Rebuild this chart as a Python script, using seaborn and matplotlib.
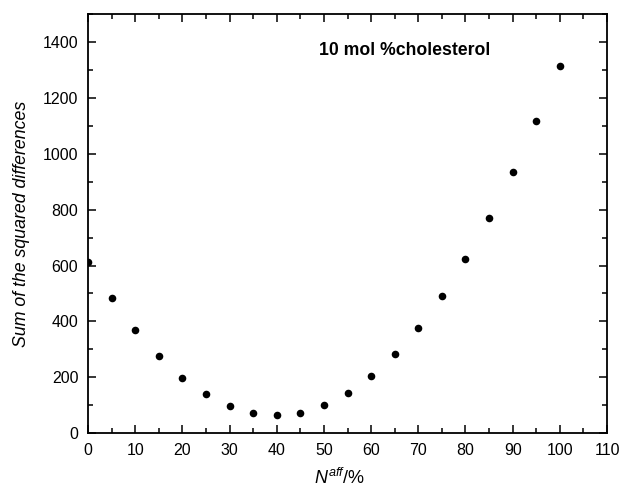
import matplotlib
matplotlib.use("Agg")
import matplotlib.pyplot as plt
from matplotlib.ticker import MultipleLocator
import seaborn as sns
import pandas as pd

# Affinity fraction (%) and sum of squared differences
n_aff = [0, 5, 10, 15, 20, 25, 30, 35, 40, 45, 50,
         55, 60, 65, 70, 75, 80, 85, 90, 95, 100]
ssd = [612, 483, 370, 276, 198, 138, 96, 70, 63, 70, 99,
       142, 204, 282, 378, 491, 623, 771, 937, 1119, 1317]

x_ticks = list(range(0, 111, 10))
y_ticks = list(range(0, 1401, 200))

sns.set_style("ticks")
plt.rcParams["font.family"] = ["Liberation Sans", "DejaVu Sans"]
plt.rcParams["mathtext.fontset"] = "custom"
plt.rcParams["mathtext.it"] = "Liberation Sans:italic"
plt.rcParams["mathtext.rm"] = "Liberation Sans"
plt.rcParams["text.color"] = "black"
plt.rcParams["axes.labelcolor"] = "black"

df = pd.DataFrame({"n_aff": n_aff, "ssd": ssd})

fig = plt.figure(figsize=(6.22, 4.88), dpi=100)
ax = fig.add_axes([0.1415, 0.1127, 0.8344, 0.8576])

sns.scatterplot(data=df, x="n_aff", y="ssd", ax=ax, color="black",
                s=30, edgecolor="black", linewidth=0, legend=False)

ax.set_xlim(0, 110)
ax.set_ylim(0, 1500)
ax.set_xticks(x_ticks)
ax.set_yticks(y_ticks)
ax.xaxis.set_minor_locator(MultipleLocator(5))
ax.yaxis.set_minor_locator(MultipleLocator(100))
ax.tick_params(which="both", direction="in", top=True, right=True,
               labelsize=11.5, width=1.1, colors="black")
ax.tick_params(which="major", length=6, pad=7)
ax.tick_params(which="minor", length=3.5)
for sp in ax.spines.values():
    sp.set_linewidth(1.3)
    sp.set_color("black")

ax.set_xlabel(r"$N^{aff}$/%", fontsize=13)
ax.xaxis.set_label_coords(0.4855, -0.083)
ax.set_ylabel("Sum of the squared differences", fontsize=12.8,
              fontstyle="italic", labelpad=9)
ax.text(67.1, 1371, "10 mol %cholesterol", fontsize=12.7, fontweight="bold",
        ha="center", va="center")

fig.savefig("out.png", dpi=100)
